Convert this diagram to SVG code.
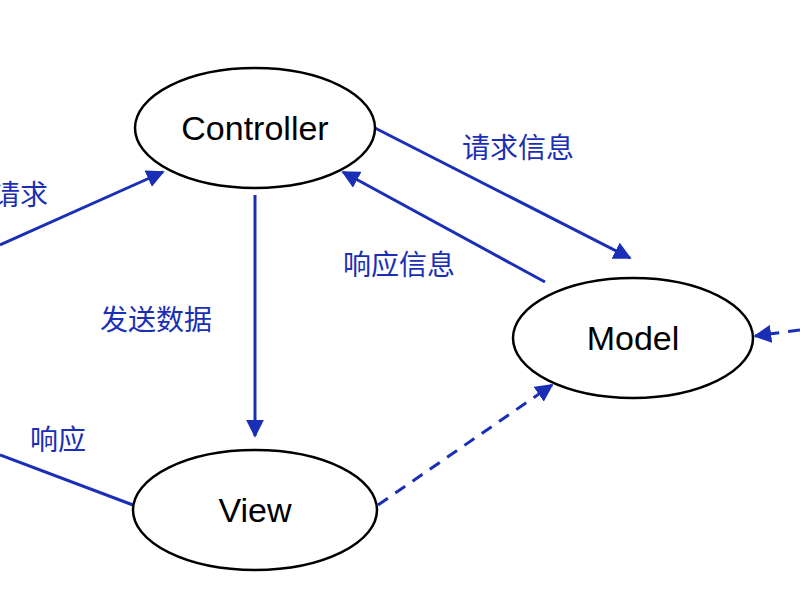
<svg xmlns="http://www.w3.org/2000/svg" width="800" height="600" viewBox="0 0 800 600">
<style>
.n{fill:#fff;stroke:#000;stroke-width:2.5}
.t{font-family:"Liberation Sans",Arial,sans-serif;font-size:34px;fill:#000;text-anchor:middle}
.l{font-family:"Noto Sans CJK SC",sans-serif;font-size:28px;fill:#1a2fb5}
.c{stroke:#1a2fb5;stroke-width:3;fill:none}
.d{stroke-dasharray:12 9}
</style>
<defs><marker id="a" viewBox="0 0 10 10" refX="9" refY="5" markerWidth="6" markerHeight="6" orient="auto"><path d="M0,0L10,5L0,10z" fill="#1a2fb5"/></marker></defs>
<rect width="800" height="600" fill="#fff"/>
<g id="connectors">
<line class="c" x1="0" y1="245" x2="163" y2="172" marker-end="url(#a)"/>
<line class="c" x1="255" y1="195" x2="255" y2="436" marker-end="url(#a)"/>
<line class="c" x1="375" y1="128" x2="630" y2="258" marker-end="url(#a)"/>
<line class="c" x1="545" y1="282" x2="343" y2="172" marker-end="url(#a)"/>
<line class="c d" x1="378" y1="505" x2="552" y2="385" marker-end="url(#a)"/>
<line class="c" x1="133" y1="505" x2="0" y2="455"/>
<line class="c d" x1="800" y1="330" x2="755" y2="336" marker-end="url(#a)"/>
<text class="l" x="-8" y="205">请求</text>
<text class="l" x="100" y="330">发送数据</text>
<text class="l" x="462" y="158">请求信息</text>
<text class="l" x="343" y="275">响应信息</text>
<text class="l" x="30" y="450">响应</text>
</g>
<g id="controller"><ellipse class="n" cx="255" cy="128" rx="120" ry="60"/><text class="t" x="255" y="140">Controller</text></g>
<g id="model"><ellipse class="n" cx="633" cy="338" rx="120" ry="60"/><text class="t" x="633" y="350">Model</text></g>
<g id="view"><ellipse class="n" cx="255" cy="510" rx="122" ry="60"/><text class="t" x="255" y="522">View</text></g>
</svg>
